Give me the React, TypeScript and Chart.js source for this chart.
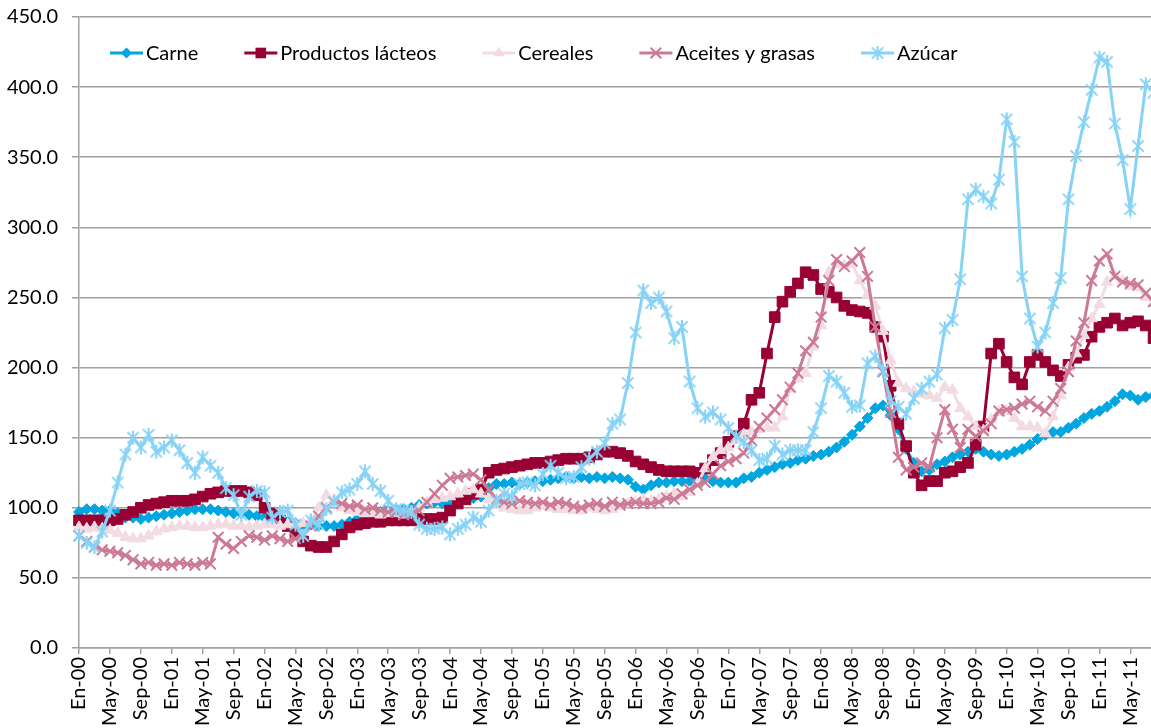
import React, { useEffect, useRef } from 'react';
import { Chart, registerables } from 'chart.js';

Chart.register(...registerables);

// ---- categories (monthly, Jan 2000 – Aug 2011) ----
const monthAbbr = ['En', 'Feb', 'Mar', 'Abr', 'May', 'Jun', 'Jul', 'Ago', 'Sep', 'Oct', 'Nov', 'Dic'];
const yearSuffixes = ['00', '01', '02', '03', '04', '05', '06', '07', '08', '09', '10', '11'];
const monthsInLastYear = 8;
const categories: string[] = [];
yearSuffixes.forEach((y, yi) => {
  const n = yi === yearSuffixes.length - 1 ? monthsInLastYear : 12;
  for (let m = 0; m < n; m++) categories.push(`${monthAbbr[m]}-${y}`);
});
const labelEvery = 4;

// ---- y axis ----
const yMin = 0;
const yMax = 450;
const yStep = 50;

// ---- series ----
const seriesNames = ['Carne', 'Productos lácteos', 'Cereales', 'Aceites y grasas', 'Azúcar'];

const carne = [
  97, 99, 99, 98, 98, 96, 93, 93, 92, 93, 94, 95,
  96, 97, 98, 99, 99, 99, 98, 97, 96, 96, 95, 94,
  93, 92, 91, 90, 89, 88, 88, 87, 87, 87, 88, 90,
  92, 94, 96, 97, 98, 99, 99, 100, 102, 103, 104, 103,
  104, 105, 107, 107, 108, 114, 117, 117, 118, 117, 118, 119,
  119, 120, 121, 122, 121, 122, 121, 122, 121, 122, 121, 120,
  115, 113, 116, 118, 118, 119, 119, 119, 120, 121, 119, 118,
  118, 118, 121, 122, 125, 127, 129, 131, 132, 134, 135, 137,
  138, 140, 143, 147, 152, 158, 164, 171, 173, 166, 156, 142,
  132, 126, 127, 131, 133, 136, 138, 140, 142, 140, 138, 137,
  138, 140, 142, 145, 149, 152, 154, 154, 157, 160, 164, 167,
  169, 172, 176, 181, 180, 177, 179, 180,
];

const lacteos = [
  91, 91, 91, 91, 91, 92, 95, 97, 100, 102, 103, 104,
  105, 105, 105, 106, 108, 110, 111, 112, 112, 112, 111, 109,
  100, 96, 91, 87, 82, 76, 73, 72, 72, 76, 81, 86,
  88, 89, 90, 90, 91, 91, 91, 91, 92, 92, 92, 93,
  98, 103, 106, 110, 113, 125, 127, 128, 129, 130, 131, 132,
  132, 133, 134, 135, 135, 135, 136, 138, 140, 140, 139, 137,
  133, 131, 129, 127, 126, 126, 126, 126, 125, 128, 134, 139,
  147, 151, 160, 177, 182, 210, 236, 247, 254, 260, 268, 266,
  256, 254, 250, 244, 241, 240, 239, 229, 222, 187, 160, 144,
  125, 116, 119, 119, 125, 126, 129, 132, 145, 158, 210, 217,
  204, 193, 188, 204, 209, 204, 198, 194, 202, 207, 209, 222,
  229, 232, 235, 230, 232, 233, 230, 221,
];

const cereales = [
  86, 85, 86, 85, 84, 82, 79, 78, 78, 80, 83, 85,
  86, 87, 87, 86, 86, 87, 88, 88, 87, 87, 86, 87,
  88, 88, 87, 88, 88, 89, 91, 100, 109, 106, 100, 98,
  97, 96, 96, 95, 96, 96, 95, 97, 100, 104, 106, 107,
  108, 110, 112, 113, 110, 106, 102, 100, 99, 98, 98, 100,
  101, 100, 99, 99, 98, 98, 100, 99, 98, 99, 101, 103,
  104, 106, 105, 106, 108, 110, 108, 111, 117, 128, 136, 141,
  143, 148, 152, 154, 156, 157, 157, 165, 185, 192, 196, 215,
  230, 268, 274, 273, 274, 262, 252, 244, 226, 205, 189, 185,
  183, 181, 180, 178, 186, 184, 171, 165, 158, 155, 163, 168,
  169, 164, 158, 158, 157, 153, 165, 180, 200, 210, 223, 235,
  245, 261, 265, 262, 258, 257, 250, 246,
];

const aceites = [
  80, 76, 72, 70, 69, 68, 66, 63, 60, 61, 59, 60,
  59, 61, 60, 59, 61, 60, 79, 74, 71, 76, 80, 79,
  77, 80, 78, 76, 78, 80, 87, 94, 100, 104, 103, 101,
  102, 99, 100, 98, 97, 97, 95, 96, 98, 104, 110, 116,
  121, 122, 123, 124, 120, 113, 106, 104, 103, 105, 104, 103,
  104, 102, 104, 103, 101, 100, 102, 103, 101, 104, 102, 103,
  104, 103, 103, 104, 107, 106, 110, 113, 116, 118, 124, 130,
  133, 135, 139, 148, 158, 164, 170, 177, 186, 196, 212, 218,
  236, 262, 277, 272, 276, 282, 265, 229, 197, 168, 136, 127,
  129, 132, 129, 150, 170, 156, 143, 156, 151, 155, 160, 169,
  170, 171, 174, 176, 172, 169, 176, 185, 197, 219, 232, 262,
  276, 281, 265, 261, 260, 259, 253, 247,
];

const azucar = [
  80, 75, 72, 83, 98, 118, 138, 150, 143, 152, 140, 143,
  148, 141, 132, 125, 136, 130, 125, 114, 109, 95, 108, 112,
  111, 93, 97, 98, 88, 80, 91, 88, 99, 104, 111, 113,
  117, 126, 117, 112, 105, 99, 98, 97, 88, 85, 85, 86,
  81, 85, 88, 93, 90, 98, 105, 110, 108, 117, 118, 116,
  124, 130, 125, 121, 122, 129, 135, 140, 146, 160, 163, 189,
  225, 255, 246, 250, 240, 221, 229, 190, 171, 165, 168, 163,
  157, 151, 147, 141, 134, 135, 144, 138, 141, 141, 141, 154,
  171, 194, 190, 182, 172, 173, 203, 208, 198, 176, 172, 167,
  178, 185, 190, 195, 228, 234, 263, 320, 327, 322, 317, 334,
  377, 361, 265, 235, 215, 225, 246, 264, 320, 351, 375, 398,
  421, 418, 374, 348, 313, 358, 402, 396,
];

const seriesValues = [carne, lacteos, cereales, aceites, azucar];

// ---- styles ----
const FONT = 'Lato, "Open Sans", "Liberation Sans", sans-serif';
const FONT_SIZE = 20;
const colors = ['#00A6E0', '#990033', '#F2DCE2', '#CC7A93', '#87D3F6'];
const markerKinds = ['diamond', 'square', 'triangle', 'x', 'asterisk'];
const markerRadius = [5.5, 7.5, 6.5, 7.5, 7];
const gridColor = '#A0A0A0';

function makeAsterisk(color: string, r: number, lw: number): HTMLCanvasElement {
  const size = Math.ceil(2 * r + lw + 2);
  const c = document.createElement('canvas');
  c.width = size;
  c.height = size;
  const g = c.getContext('2d')!;
  const m = size / 2;
  const d = r * 0.8;
  g.strokeStyle = color;
  g.lineWidth = lw;
  g.beginPath();
  g.moveTo(m, m - r);
  g.lineTo(m, m + r);
  g.moveTo(m - d, m - d);
  g.lineTo(m + d, m + d);
  g.moveTo(m + d, m - d);
  g.lineTo(m - d, m + d);
  g.stroke();
  return c;
}

function drawMarker(ctx: CanvasRenderingContext2D, kind: string, x: number, y: number, r: number, color: string, img?: HTMLCanvasElement) {
  ctx.save();
  ctx.fillStyle = color;
  ctx.strokeStyle = color;
  ctx.beginPath();
  if (kind === 'diamond') {
    ctx.moveTo(x, y - r);
    ctx.lineTo(x + r, y);
    ctx.lineTo(x, y + r);
    ctx.lineTo(x - r, y);
    ctx.closePath();
    ctx.fill();
  } else if (kind === 'square') {
    const h = r * Math.SQRT1_2;
    ctx.rect(x - h, y - h, 2 * h, 2 * h);
    ctx.fill();
  } else if (kind === 'triangle') {
    for (let k = 0; k < 3; k++) {
      const a = (k * 2 * Math.PI) / 3;
      const px = x + Math.sin(a) * r;
      const py = y - Math.cos(a) * r;
      if (k === 0) ctx.moveTo(px, py);
      else ctx.lineTo(px, py);
    }
    ctx.closePath();
    ctx.fill();
  } else if (kind === 'x') {
    const d = r * Math.SQRT1_2;
    ctx.lineWidth = 2;
    ctx.moveTo(x - d, y - d);
    ctx.lineTo(x + d, y + d);
    ctx.moveTo(x + d, y - d);
    ctx.lineTo(x - d, y + d);
    ctx.stroke();
  } else if (kind === 'asterisk' && img) {
    ctx.drawImage(img, x - img.width / 2, y - img.height / 2);
  }
  ctx.restore();
}

export default function App() {
  const canvasRef = useRef<HTMLCanvasElement | null>(null);

  useEffect(() => {
    const canvas = canvasRef.current;
    if (!canvas) return;
    const star = makeAsterisk(colors[4], markerRadius[4], 2);

    const pointStyles: any[] = ['rectRot', 'rect', 'triangle', 'crossRot', star];

    const datasets = seriesNames.map((name, i) => ({
      label: name,
      data: seriesValues[i],
      borderColor: colors[i],
      backgroundColor: colors[i],
      borderWidth: 3,
      pointStyle: pointStyles[i],
      pointRadius: markerRadius[i],
      pointBorderWidth: i === 3 ? 2 : 1,
      pointBackgroundColor: colors[i],
      pointBorderColor: colors[i],
      tension: 0,
      fill: false,
      order: seriesNames.length - 1 - i,
    }));

    const legendPlugin = {
      id: 'excelLegend',
      afterDraw(chart: any) {
        const ctx = chart.ctx as CanvasRenderingContext2D;
        const legendY = 53;
        const lineLen = 33;
        const textGap = 3;
        const itemGap = 46;
        let x = 110;
        ctx.save();
        ctx.font = `${FONT_SIZE}px ${FONT}`;
        ctx.textBaseline = 'middle';
        ctx.textAlign = 'left';
        seriesNames.forEach((name, i) => {
          ctx.strokeStyle = colors[i];
          ctx.lineWidth = 3;
          ctx.beginPath();
          ctx.moveTo(x, legendY);
          ctx.lineTo(x + lineLen, legendY);
          ctx.stroke();
          drawMarker(ctx, markerKinds[i], x + lineLen / 2, legendY, markerRadius[i], colors[i], star);
          ctx.fillStyle = '#000';
          ctx.fillText(name, x + lineLen + textGap, legendY + 1);
          x += lineLen + textGap + ctx.measureText(name).width + itemGap;
        });
        ctx.restore();
      },
    };

    const chart = new Chart(canvas, {
      type: 'line',
      data: { labels: categories, datasets },
      options: {
        responsive: false,
        animation: false,
        events: [],
        layout: { autoPadding: false, padding: { top: 17, right: 6.5, left: 0, bottom: 0 } },
        plugins: {
          legend: { display: false },
          tooltip: { enabled: false },
        },
        scales: {
          x: {
            type: 'category',
            offset: false,
            grid: {
              drawOnChartArea: false,
              drawTicks: true,
              tickLength: 6,
              color: gridColor,
              lineWidth: 1.5,
            },
            border: { display: true, color: gridColor, width: 1.5 },
            ticks: {
              autoSkip: false,
              maxRotation: 90,
              minRotation: 90,
              padding: 3,
              color: '#000',
              font: { family: FONT, size: FONT_SIZE },
              callback: (_v: any, idx: number) => (idx % labelEvery === 0 ? categories[idx] : null),
            },
            afterFit: (s: any) => {
              s.height = 80;
              s.paddingLeft = 0;
              s.paddingRight = 0;
            },
          },
          y: {
            min: yMin,
            max: yMax,
            grid: { color: gridColor, lineWidth: 1.5, tickLength: 7 },
            border: { display: true, color: gridColor, width: 1.5 },
            ticks: {
              stepSize: yStep,
              padding: 14,
              color: '#000',
              font: { family: FONT, size: FONT_SIZE },
              callback: (v: any) => Number(v).toFixed(1),
            },
            afterFit: (s: any) => {
              s.width = 79;
              s.paddingTop = 0;
              s.paddingBottom = 0;
            },
          },
        },
      },
      plugins: [legendPlugin],
    } as any);

    return () => chart.destroy();
  }, []);

  return (
    <div
      style={{
        position: 'absolute',
        left: 0,
        top: 0,
        width: 1151,
        height: 728,
        overflow: 'hidden',
        background: '#fff',
      }}
    >
      <canvas ref={canvasRef} width={1160} height={728} style={{ width: 1160, height: 728, display: 'block' }} />
    </div>
  );
}
